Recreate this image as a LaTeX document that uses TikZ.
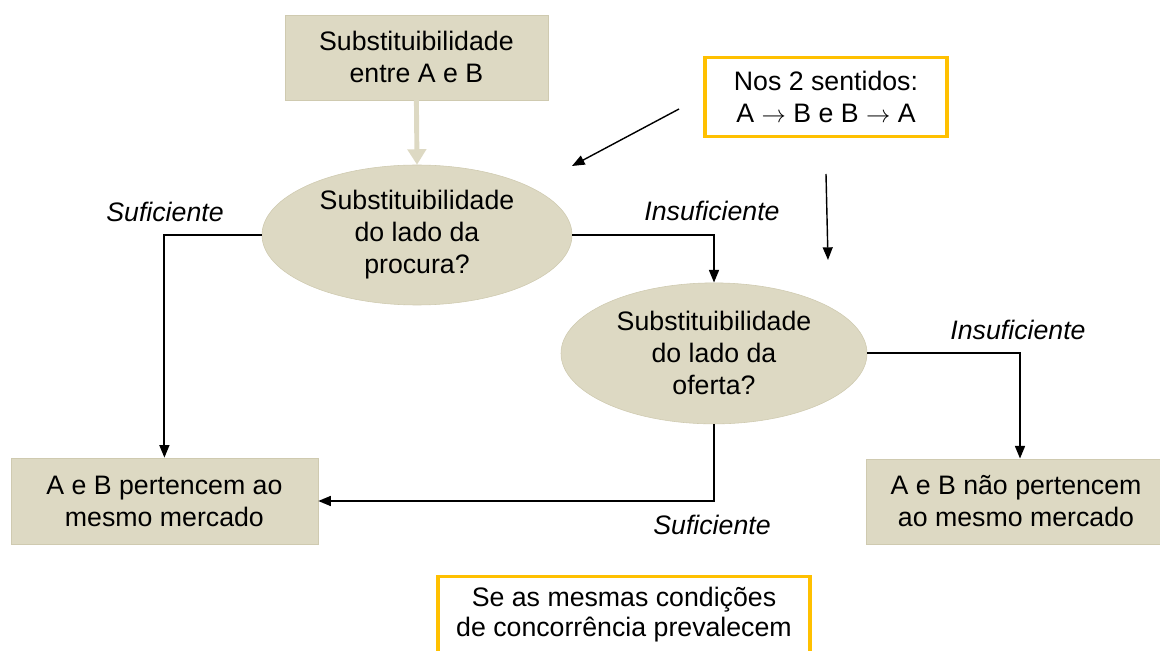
\documentclass[tikz,border=0pt]{standalone}
\usepackage{fontspec}
\setmainfont{Liberation Sans}
\usetikzlibrary{arrows.meta,shapes.geometric}
\definecolor{beige}{HTML}{DDD9C3}
\definecolor{beigeline}{HTML}{CFCAB0}
\definecolor{gold}{HTML}{FFC000}
\begin{document}
\begin{tikzpicture}[
    font=\fontsize{19}{22.8}\selectfont,
    >={Triangle[length=9pt,width=7pt]},
    box/.style={rectangle, fill=beige, draw=beigeline, thin, align=center, inner sep=0pt},
    question/.style={ellipse, fill=beige, draw=beigeline, thin, align=center, inner sep=0pt},
    note/.style={rectangle, draw=gold, line width=2.2pt, align=center, inner sep=0pt},
    flow/.style={->, line width=1.4pt},
    answer/.style={font=\fontsize{19}{22.8}\selectfont\itshape}
]
    % Page
    \useasboundingbox (0,0) rectangle (29,16.275);
    \clip (0,0) rectangle (29,16.275);

    % Boxes
    \node[box, minimum width=6.575cm, minimum height=2.125cm] (pair) at (10.41,14.84) {Substituibilidade\\entre A e B};
    \node[box, minimum width=7.675cm, minimum height=2.15cm] (same) at (4.11,3.75) {A e B pertencem ao\\mesmo mercado};
    \node[box, minimum width=7.5cm, minimum height=2.125cm] (apart) at (25.4,3.74) {A e B não pertencem\\ao mesmo mercado};

    % Questions
    \node[question, minimum width=7.75cm, minimum height=3.5cm] (demand) at (10.425,10.4) {Substituibilidade\\do lado da\\procura?};
    \node[question, minimum width=7.65cm, minimum height=3.525cm] (supply) at (17.85,7.44) {Substituibilidade\\do lado da\\oferta?};

    % Notes
    \node[note, minimum width=6.05cm, minimum height=1.975cm] (both) at (20.65,13.86) {Nos 2 sentidos:\\A $\rightarrow$ B e B $\rightarrow$ A};
    \node[note, anchor=north, minimum width=9.3cm, minimum height=2.4cm, text depth=0.65cm, font=\fontsize{19}{21.5}\selectfont] (cond) at (15.6,1.9) {Se as mesmas condições\\de concorrência prevalecem};

    % Start arrow
    \draw[line width=3.5pt, beige, -{Triangle[length=11pt,width=13pt]}] (pair.south) -- (demand.north);

    % Flow
    \draw[flow] (demand.west) -| (same.north);
    \draw[flow] (demand.east) -| (supply.north);
    \draw[flow] (supply.east) -| ([xshift=0.1cm]apart.north);
    \draw[flow] (supply.south) |- (same.east);

    % Answers
    \node[answer] (a1) at (4.125,10.975) {Suficiente};
    \node[answer] (a2) at (17.8,11.0) {Insuficiente};
    \node[answer] (a3) at (25.45,8.025) {Insuficiente};
    \node[answer] (a4) at (17.8,3.15) {Suficiente};

    % Note arrows
    \coordinate (n1) at (16.975,13.55);
    \coordinate (n2) at (14.3,12.125);
    \coordinate (n3) at (20.65,11.925);
    \coordinate (n4) at (20.7,9.775);
    \draw[->, line width=1pt] (n1) -- (n2);
    \draw[->, line width=1pt] (n3) -- (n4);
\end{tikzpicture}
\end{document}
